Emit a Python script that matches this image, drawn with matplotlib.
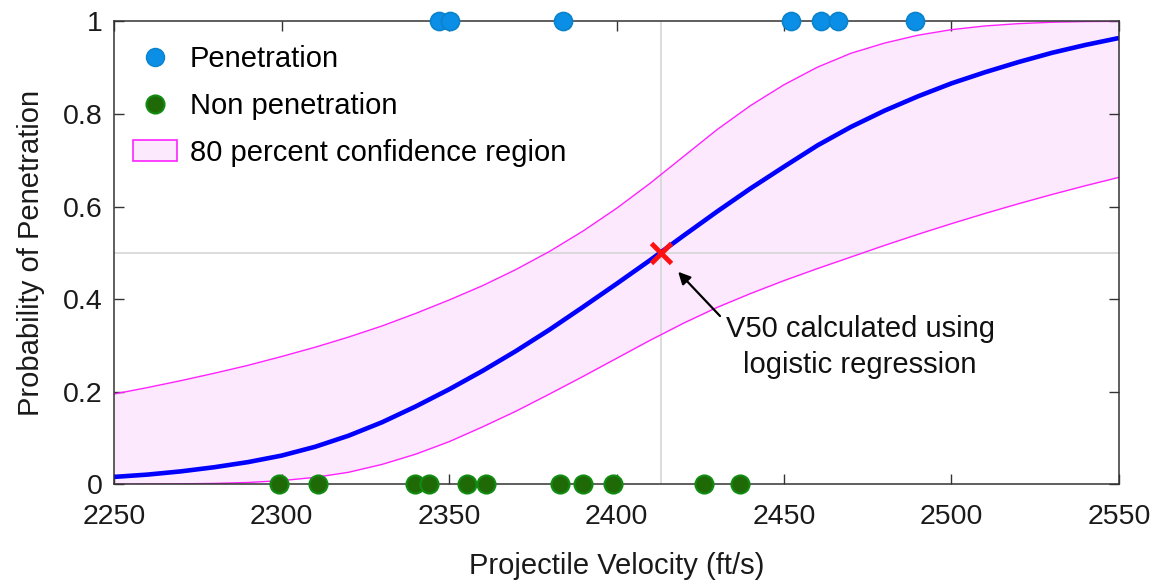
import numpy as np
import matplotlib
matplotlib.use("Agg")
import matplotlib.pyplot as plt
from matplotlib.patches import Patch
from matplotlib.lines import Line2D

plt.rcParams["font.family"] = ["Liberation Sans", "DejaVu Sans"]

# values
velocity = [2250, 2260, 2270, 2280, 2290, 2300, 2310, 2320, 2330, 2340,
            2350, 2360, 2370, 2380, 2390, 2400, 2410, 2420, 2430, 2440,
            2450, 2460, 2470, 2480, 2490, 2500, 2510, 2520, 2530, 2540, 2550]
prob_fit = [0.016, 0.021, 0.028, 0.037, 0.048, 0.062, 0.081, 0.105, 0.134, 0.168,
            0.205, 0.245, 0.288, 0.334, 0.383, 0.433, 0.484, 0.537, 0.589, 0.639,
            0.686, 0.732, 0.772, 0.807, 0.838, 0.866, 0.890, 0.912, 0.932, 0.949, 0.964]
prob_upper = [0.195, 0.209, 0.224, 0.240, 0.257, 0.276, 0.296, 0.318, 0.342, 0.369,
              0.398, 0.429, 0.464, 0.503, 0.547, 0.596, 0.650, 0.708, 0.766, 0.818,
              0.863, 0.901, 0.931, 0.953, 0.970, 0.982, 0.990, 0.995, 0.998, 0.9995, 1.000]
prob_lower = [0.000, 0.0003, 0.001, 0.002, 0.004, 0.008, 0.015, 0.026, 0.043, 0.065,
              0.092, 0.124, 0.158, 0.195, 0.233, 0.272, 0.311, 0.348, 0.382, 0.412,
              0.440, 0.466, 0.491, 0.516, 0.540, 0.563, 0.585, 0.606, 0.626, 0.645, 0.663]

pen_velocity = [2347.1, 2350.3, 2384.0, 2452.0, 2461.0, 2466.0, 2489.1]
nonpen_velocity = [2299.3, 2311.0, 2339.9, 2344.1, 2355.3, 2361.0, 2383.1,
                   2389.9, 2399.0, 2426.1, 2436.9]
v50 = 2413.2

x_ticks = [2250, 2300, 2350, 2400, 2450, 2500, 2550]
y_ticks = [0, 0.2, 0.4, 0.6, 0.8, 1]
y_tick_labels = ["0", "0.2", "0.4", "0.6", "0.8", "1"]

fig = plt.figure(figsize=(11.53, 5.81), dpi=100)
ax = fig.add_axes([0.0989, 0.1664, 0.8716, 0.7969])

ax.fill_between(velocity, prob_lower, prob_upper, color="#fde9fd", lw=0, zorder=1)
ax.plot(velocity, prob_upper, color="#ff22ff", lw=1.0, zorder=3)
ax.plot(velocity, prob_lower, color="#ff22ff", lw=1.0, zorder=3)

ax.axvline(v50, color="#d6d6d6", lw=1.2, zorder=2)
ax.axhline(0.5, color="#d6d6d6", lw=1.2, zorder=2)

ax.plot(velocity, prob_fit, color="#0000ff", lw=3.3, zorder=4, solid_capstyle="butt")
ax.plot([v50], [0.5], marker="x", ms=15, mew=3.5, color="#ff1111", zorder=6)

ax.plot(pen_velocity, [1] * len(pen_velocity), "o", ms=13, color="#0a8ee6",
        mec="#0a82cc", mew=1.2, zorder=7, clip_on=False)
ax.plot(nonpen_velocity, [0] * len(nonpen_velocity), "o", ms=13, color="#1f6a06",
        mec="#118c11", mew=1.5, zorder=7, clip_on=False)

ax.annotate("", xy=(2418.4, 0.459), xytext=(2430.9, 0.3635),
            arrowprops=dict(arrowstyle="-|>", color="black", lw=1.6,
                            mutation_scale=18, shrinkA=0, shrinkB=0), zorder=8)
ax.text(2472.7, 0.366, "V50 calculated using\nlogistic regression", ha="center",
        va="top", fontsize=21, color="#111111", linespacing=1.35, zorder=8)

ax.set_xlim(2250, 2550)
ax.set_ylim(0, 1)
ax.set_xticks(x_ticks)
ax.set_yticks(y_ticks)
ax.set_yticklabels(y_tick_labels)
ax.tick_params(direction="in", length=7, width=1, color="#333333", labelsize=20.5,
               labelcolor="#1a1a1a", top=True, right=True)
ax.tick_params(axis="x", pad=14)
ax.tick_params(axis="y", pad=8)
for s in ax.spines.values():
    s.set_color("#333333")
    s.set_linewidth(1.1)
    s.set_zorder(5)

ax.set_xlabel("Projectile Velocity (ft/s)", fontsize=21, color="#1a1a1a", labelpad=16)
ax.set_ylabel("Probability of Penetration", fontsize=21, color="#1a1a1a", labelpad=13)

handles = [
    Line2D([], [], ls="none", marker="o", ms=13, color="#0a8ee6", mec="#0a82cc"),
    Line2D([], [], ls="none", marker="o", ms=13, color="#1f6a06", mec="#118c11", mew=1.5),
    Patch(facecolor="#fde9fd", edgecolor="#ff22ff", lw=1.2),
]
labels = ["Penetration", "Non penetration", "80 percent confidence region"]
ax.legend(handles, labels, loc="upper left", bbox_to_anchor=(0.019, 0.948),
          frameon=False, fontsize=21, borderaxespad=0, borderpad=0,
          handlelength=1.5, handleheight=0.75, handletextpad=0.45, labelspacing=0.64)

fig.savefig("out.png", dpi=100)
